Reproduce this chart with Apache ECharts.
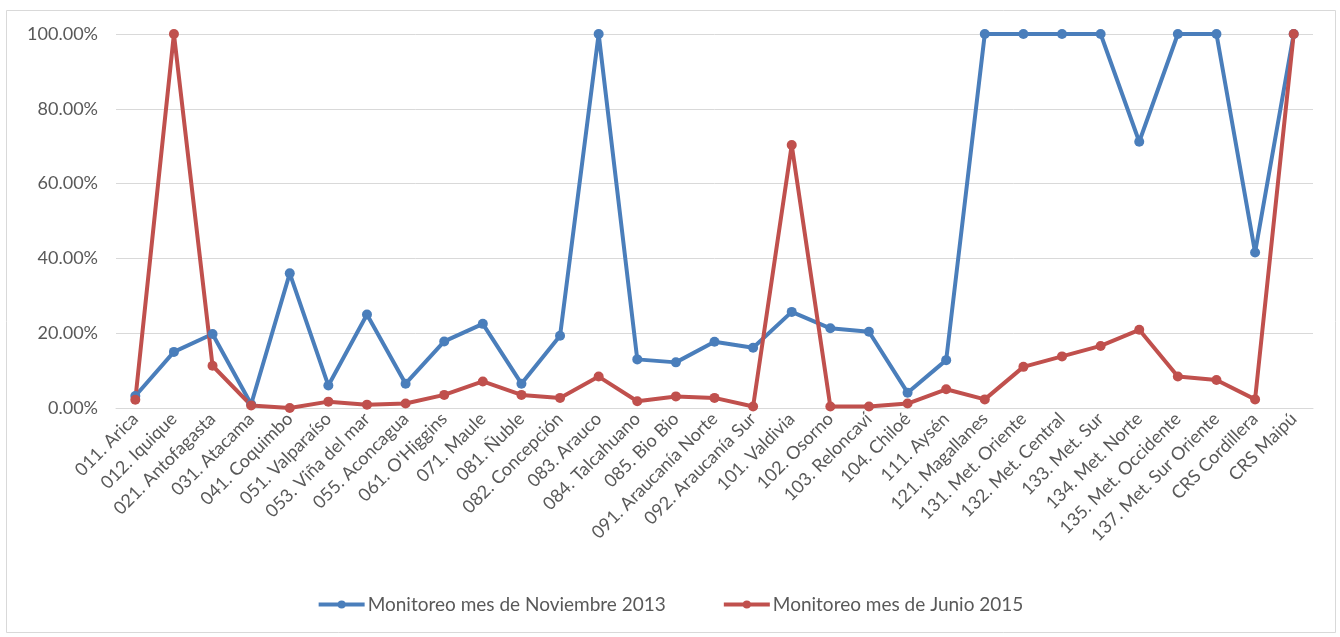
<!DOCTYPE html>
<html>
<head>
<meta charset="utf-8">
<script src="https://cdn.jsdelivr.net/npm/echarts@6/dist/echarts.min.js"></script>
<style>
html,body{margin:0;padding:0;background:#fff;}
#chart{width:1340px;height:637px;}
</style>
</head>
<body>
<div id="chart"></div>
<script>
const categories = ["011. Arica","012. Iquique","021. Antofagasta","031. Atacama","041. Coquimbo","051. Valparaíso","053. Viña del mar","055. Aconcagua","061. O'Higgins","071. Maule","081. Ñuble","082. Concepción","083. Arauco","084. Talcahuano","085. Bio Bio","091. Araucanía Norte","092. Araucanía Sur","101. Valdivia","102. Osorno","103. Reloncaví","104. Chiloé","111. Aysén","121. Magallanes","131. Met. Oriente","132. Met. Central","133. Met. Sur","134. Met. Norte","135. Met. Occidente","137. Met. Sur Oriente","CRS Cordillera","CRS Maipú"];
const seriesNames = ["Monitoreo mes de Noviembre 2013","Monitoreo mes de Junio 2015"];
const nov2013 = [3.2,15,19.8,1,36,6,25,6.5,17.8,22.5,6.5,19.3,100,13,12.2,17.7,16.1,25.7,21.3,20.4,4.1,12.8,100,100,100,100,71.2,100,100,41.6,100];
const jun2015 = [2.2,100,11.3,0.7,0,1.7,0.9,1.2,3.5,7.1,3.5,2.7,8.4,1.8,3.1,2.7,0.4,70.3,0.4,0.4,1.2,5,2.3,11,13.8,16.6,20.9,8.4,7.5,2.3,100];
const yTicks = {min:0,max:100,interval:20};

const font = "Lato, 'Open Sans', sans-serif";
const chart = echarts.init(document.getElementById('chart'));
chart.setOption({
  animation:false,
  backgroundColor:'#fff',
  graphic:[{type:'rect',shape:{x:6.5,y:10.5,width:1329,height:622},style:{fill:'none',stroke:'#d9d9d9',lineWidth:1},silent:true}],
  grid:{left:116,right:27,top:34,bottom:229,containLabel:false},
  legend:{
    bottom:18,left:'center',itemWidth:46,itemHeight:10,itemGap:56,
    lineStyle:{width:4},
    textStyle:{fontFamily:font,fontSize:19,color:'#595959',padding:[0,0,0,-2]},
    data:seriesNames
  },
  xAxis:{
    type:'category',data:categories,boundaryGap:true,
    axisLine:{show:true,lineStyle:{color:'#d9d9d9'}},
    axisTick:{show:false},
    axisLabel:{rotate:45,interval:0,fontFamily:font,fontSize:18,color:'#595959',margin:8}
  },
  yAxis:{
    type:'value',min:yTicks.min,max:yTicks.max,interval:yTicks.interval,
    axisLine:{show:false},axisTick:{show:false},
    splitLine:{lineStyle:{color:'#d9d9d9',width:1}},
    axisLabel:{fontFamily:font,fontSize:18,color:'#595959',margin:18,formatter:v=>v.toFixed(2)+'%'}
  },
  series:[
    {name:seriesNames[0],type:'line',data:nov2013,color:'#4a7ebb',symbol:'circle',symbolSize:10,lineStyle:{width:4,color:'#4a7ebb'},itemStyle:{color:'#4a7ebb'}},
    {name:seriesNames[1],type:'line',data:jun2015,color:'#c0504d',symbol:'circle',symbolSize:10,lineStyle:{width:4,color:'#c0504d'},itemStyle:{color:'#c0504d'}}
  ]
});
</script>
</body>
</html>
